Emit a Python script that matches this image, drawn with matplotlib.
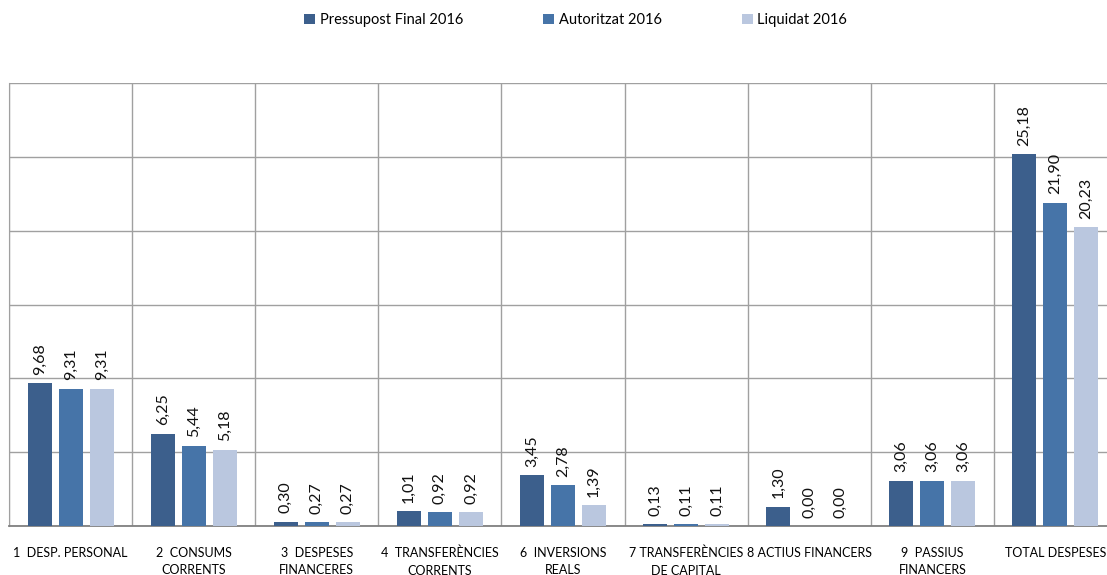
import matplotlib.pyplot as plt
import numpy as np

plt.rcParams['font.family'] = ['Lato', 'DejaVu Sans']

categories = ["1  DESP. PERSONAL", "2  CONSUMS\nCORRENTS", "3  DESPESES\nFINANCERES",
              "4  TRANSFERÈNCIES\nCORRENTS", "6  INVERSIONS\nREALS",
              "7 TRANSFERÈNCIES\nDE CAPITAL", "8 ACTIUS FINANCERS",
              "9  PASSIUS\nFINANCERS", "TOTAL DESPESES"]
pressupost = [9.68, 6.25, 0.30, 1.01, 3.45, 0.13, 1.30, 3.06, 25.18]
autoritzat = [9.31, 5.44, 0.27, 0.92, 2.78, 0.11, 0.00, 3.06, 21.90]
liquidat = [9.31, 5.18, 0.27, 0.92, 1.39, 0.11, 0.00, 3.06, 20.23]

series = [("Pressupost Final 2016", pressupost, "#3C5F8C"),
          ("Autoritzat 2016", autoritzat, "#4674A8"),
          ("Liquidat 2016", liquidat, "#BAC7DF")]

fig = plt.figure(figsize=(11.07, 5.75), dpi=100)
ax = fig.add_axes([9 / 1107, 49 / 575, 1108 / 1107, 443 / 575])

x = np.arange(len(categories))
w = 0.195
step = 0.252
for i, (name, vals, col) in enumerate(series):
    pos = x + (i - 1) * step
    bars = ax.bar(pos, vals, w, color=col, label=name, zorder=3)
    for p, v in zip(pos, vals):
        ax.annotate(f"{v:.2f}".replace(".", ","), (p, v), xytext=(0, 6),
                    textcoords="offset points", rotation=90, ha="center",
                    va="bottom", fontsize=11.5, color="#111111")

ax.set_xlim(-0.5, len(categories) - 0.5)
ax.set_ylim(0, 30)
ax.set_yticks(np.arange(0, 31, 5))
ax.set_yticklabels([])
ax.tick_params(axis="y", length=0)
ax.set_xticks(x)
ax.set_xticklabels(categories, fontsize=9, linespacing=1.55)
ax.tick_params(axis="x", length=0, pad=15)
ax.set_xticks(np.arange(-0.5, len(categories), 1), minor=True)
ax.tick_params(axis="x", which="minor", length=0)
ax.grid(axis="y", color="#A0A0A0", linewidth=1, zorder=0)
ax.grid(axis="x", which="minor", color="#A0A0A0", linewidth=1, zorder=0)
ax.grid(axis="x", which="major", visible=False)
for s in ["top", "right"]:
    ax.spines[s].set_visible(False)
ax.spines["left"].set_color("#A0A0A0")
ax.spines["bottom"].set_color("#808080")
ax.spines["bottom"].set_linewidth(1.3)

fig.legend(loc="upper center", bbox_to_anchor=(0.52, 1.0), ncol=3, frameon=False,
           fontsize=10.5, handlelength=0.75, handleheight=0.75, columnspacing=5.5,
           handletextpad=0.3)

fig.savefig("out.png", dpi=100)
